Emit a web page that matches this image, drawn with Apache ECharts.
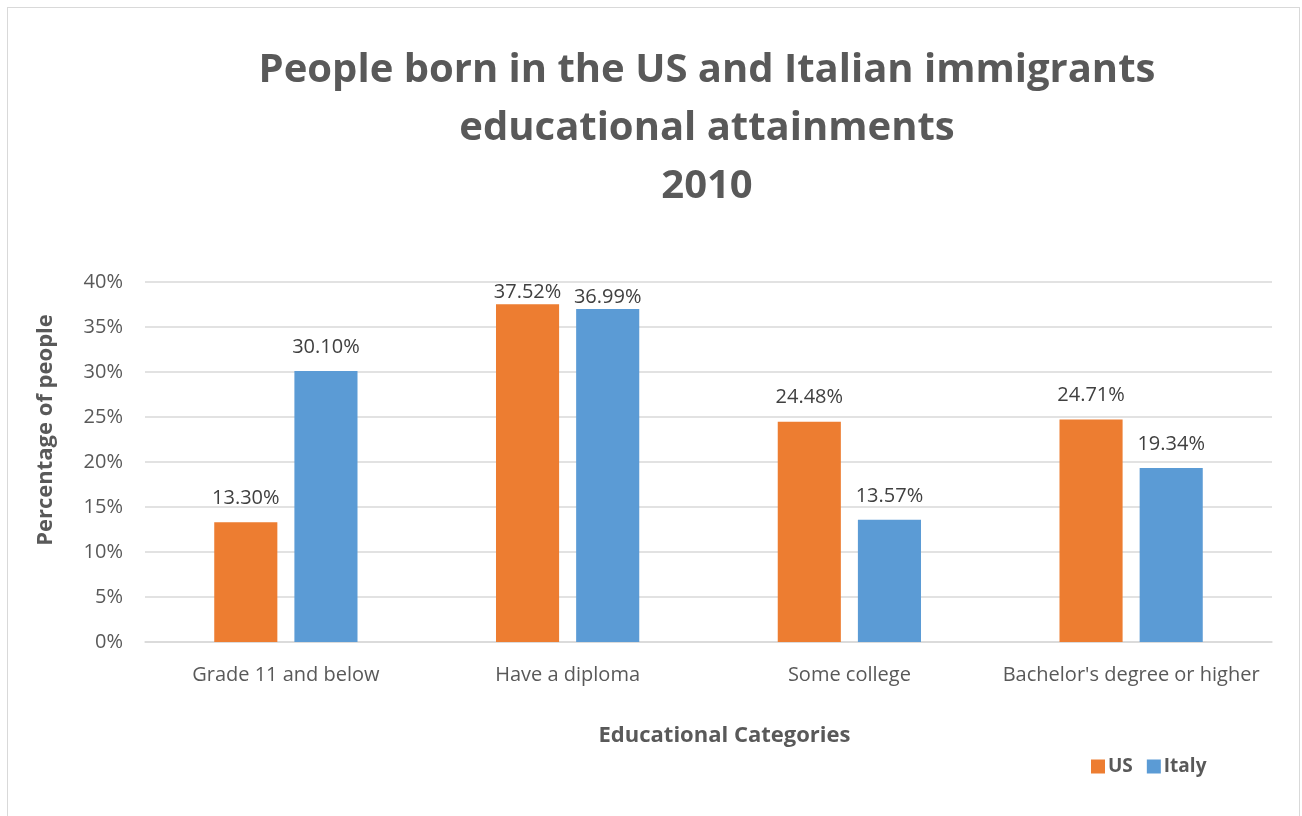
<!DOCTYPE html>
<html><head><meta charset="utf-8">
<script src="https://cdn.jsdelivr.net/npm/echarts@6/dist/echarts.min.js"></script>
<style>
html,body{margin:0;padding:0;background:#fff;}
#frame{position:absolute;left:7px;top:7px;width:1293px;height:820px;border:1.5px solid #d9d9d9;box-sizing:border-box;}
#c{position:absolute;left:0;top:0;width:1302px;height:816px;}
</style></head>
<body>
<div id="frame"></div>
<div id="c"></div>
<script>
const categories = ["Grade 11 and below", "Have a diploma", "Some college", "Bachelor's degree or higher"];
const usValues = [13.30, 37.52, 24.48, 24.71];
const italyValues = [30.10, 36.99, 13.57, 19.34];
const yTicks = [0, 5, 10, 15, 20, 25, 30, 35, 40];

const font = "'Open Sans', 'Liberation Sans', sans-serif";
// labels that would overflow the plot top are pulled down closer to the bar (as in the original)
const toData = vals => vals.map(v => v > 35 ? {value: v, label: {distance: 2}} : v);

const chart = echarts.init(document.getElementById('c'));
chart.setOption({
  animation: false,
  title: {
    text: 'People born in the US and Italian immigrants\neducational attainments\n2010',
    left: 702, top: 37, textAlign: 'center',
    textStyle: {fontFamily: font, fontSize: 40, fontWeight: 'bold', color: '#595959', lineHeight: 58}
  },
  legend: {
    left: 1086, top: 752, itemWidth: 14, itemHeight: 14, itemGap: 14,
    icon: 'rect',
    textStyle: {fontFamily: font, fontSize: 19, fontWeight: 'bold', color: '#595959', padding: [0,0,0,-2]},
    data: ['US', 'Italy']
  },
  grid: {left: 145, right: 30, top: 282, bottom: 174},
  xAxis: {
    type: 'category', data: categories,
    name: 'Educational Categories', nameLocation: 'middle', nameGap: 83,
    nameTextStyle: {fontFamily: font, fontSize: 22, fontWeight: 'bold', color: '#595959', padding: [0,0,0,32]},
    axisLine: {lineStyle: {color: '#d9d9d9', width: 1.5}},
    axisTick: {show: false},
    axisLabel: {interval: 0, fontFamily: font, fontSize: 20, color: '#595959', margin: 23}
  },
  yAxis: {
    type: 'value', min: 0, max: 40, interval: 5,
    name: 'Percentage of people', nameLocation: 'middle', nameGap: 88, nameRotate: 90,
    nameTextStyle: {fontFamily: font, fontSize: 22, fontWeight: 'bold', color: '#595959', padding: [0,0,0,64]},
    axisLine: {show: false}, axisTick: {show: false},
    splitLine: {lineStyle: {color: '#d9d9d9', width: 1.5}},
    axisLabel: {fontFamily: font, fontSize: 20, color: '#595959', margin: 22,
      formatter: v => yTicks.includes(v) ? v + '%' : ''}
  },
  series: [
    {name: 'US', type: 'bar', data: toData(usValues), barWidth: '22.4%', barGap: '27%',
     itemStyle: {color: '#ed7d31'},
     label: {show: true, position: 'top', distance: 14, fontFamily: font, fontSize: 20, color: '#404040',
       formatter: p => p.value.toFixed(2) + '%'}},
    {name: 'Italy', type: 'bar', data: toData(italyValues), barWidth: '22.4%', barGap: '27%',
     itemStyle: {color: '#5b9bd5'},
     label: {show: true, position: 'top', distance: 14, fontFamily: font, fontSize: 20, color: '#404040',
       formatter: p => p.value.toFixed(2) + '%'}}
  ]
});
</script>
</body></html>
